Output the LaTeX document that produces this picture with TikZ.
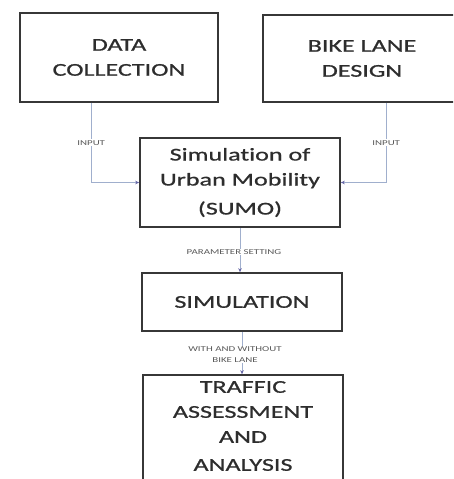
\documentclass[tikz,border=0pt]{standalone}
\usepackage{fontspec}
\setmainfont{Carlito}[FakeStretch=1.45,Ligatures={NoCommon}]
\newfontfamily\boxfont{Carlito}[FakeStretch=1.45,FakeBold=0.8,Ligatures={NoCommon}]
\usetikzlibrary{arrows.meta}
\definecolor{boxline}{RGB}{55,55,55}
\definecolor{txt}{RGB}{45,45,45}
\definecolor{connc}{RGB}{160,175,205}
\definecolor{tipc}{RGB}{100,100,165}
\tikzset{
  box/.style={draw=boxline, line width=1.6pt, rectangle, align=center, inner sep=0pt, text=txt,
    font=\boxfont\fontsize{18}{25}\selectfont},
  conn/.style={draw=connc, line width=0.7pt},
  tip/.style={-{Stealth[length=4pt,width=3.5pt,color=tipc]}},
  lbl/.style={fill=white, text=black!65, inner sep=1pt, align=center,
    font=\fontsize{7.5}{10.5}\selectfont},
  plain/.style={text=txt, align=center, inner sep=0pt, font=\boxfont\fontsize{18}{25}\selectfont}
}
\begin{document}
\begin{tikzpicture}[x=1pt,y=-1pt]
\clip (0,0) rectangle (453,479);
\fill[white] (0,0) rectangle (453,479);
\node[box, minimum width=198pt, minimum height=89pt] (dc) at (119,57.5) {DATA\\COLLECTION};
\node[box, minimum width=198pt, minimum height=87pt] (bld) at (362,58.5) {BIKE LANE\\DESIGN};
\node[box, minimum width=200pt, minimum height=89pt] (sumo) at (240,182.5) {Simulation of\\Urban Mobility\\[4pt](SUMO)};
\node[box, minimum width=200pt, minimum height=58pt] (sim) at (242,302) {SIMULATION};
\node[box, minimum width=200pt, minimum height=125pt] (traffic) at (243,437.5) {};
\node[plain] (traffictext) at (243,426) {TRAFFIC\\ASSESSMENT\\AND\\[3pt]ANALYSIS};
\draw[conn, tip] (dc.south west) ++(72,0) |- node[lbl, pos=0.25] (in1) {INPUT} (sumo.west);
\draw[conn, tip] (bld.south west) ++(124,0) |- node[lbl, pos=0.25] (in2) {INPUT} (sumo.east);
\draw[conn, tip] (sumo.south) -- node[lbl, xshift=-6pt, yshift=-2pt] (ps) {PARAMETER SETTING} (sumo.south |- sim.north);
\draw[conn, tip] (sim.south) -- node[lbl, xshift=-7pt, yshift=-1.5pt] (wb) {WITH AND WITHOUT\\BIKE LANE} (sim.south |- traffic.north);
\end{tikzpicture}
\end{document}
